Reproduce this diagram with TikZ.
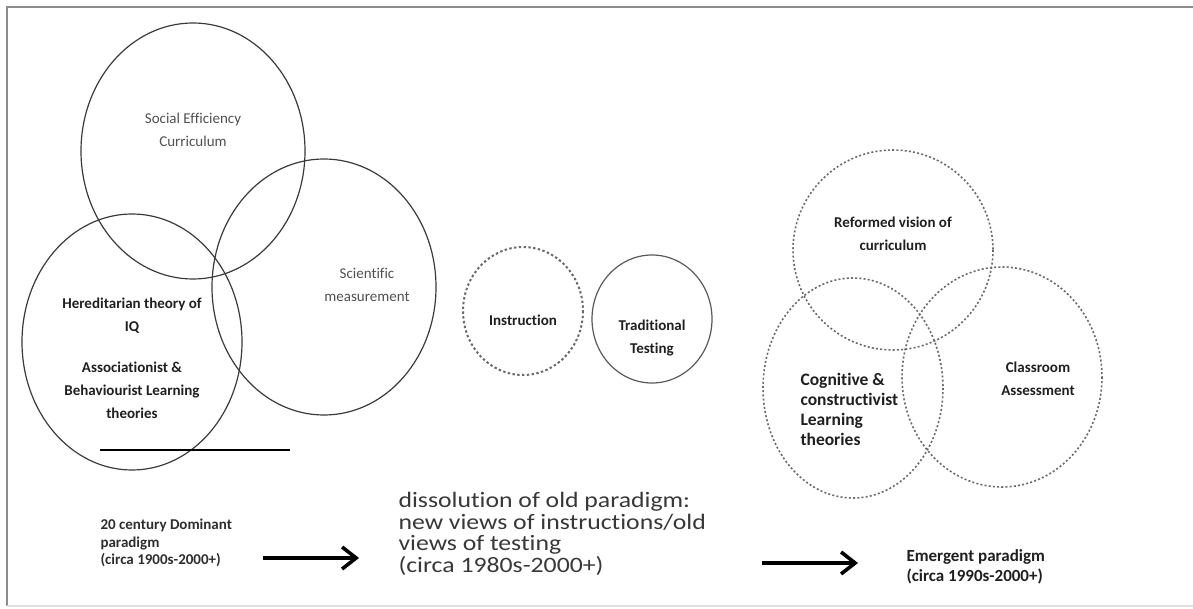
\documentclass[tikz,border=0pt]{standalone}
\usepackage{fontspec}
\setmainfont[Ligatures=NoCommon, RawFeature={-liga;-dlig}]{Carlito}
\newfontfamily\widefont[FakeStretch=1.17, Ligatures=NoCommon, RawFeature={-liga}]{Carlito}
\usetikzlibrary{arrows.meta}
\definecolor{inkgray}{HTML}{3A3A3A}
\definecolor{softgray}{HTML}{505050}
\definecolor{dotgray}{HTML}{6A6A6A}

\tikzset{
	solidcirc/.style={draw=inkgray, line width=1.2pt},
	dotcirc/.style={draw=dotgray, line width=1.6pt, dash pattern=on 2pt off 2.2pt},
	thin label/.style={text=softgray, align=center, font=\fontsize{15}{23}\selectfont},
	bold label/.style={text=black!88, align=center, font=\bfseries\fontsize{15}{23}\selectfont},
	shift arrow/.style={line width=3.6pt, -{Straight Barb[length=14pt, width=22pt]}},
}

\begin{document}
\begin{tikzpicture}[x=1pt, y=-1pt]
			\useasboundingbox (0,0) rectangle (1193,609);

			\draw[black!45, line width=2pt] (1193,7) -- (7,7) -- (7,606);
			\draw[black!12, line width=2pt] (7,606) -- (1193,606);

			\draw[solidcirc] (193,151) ellipse [x radius=112, y radius=128];
			\draw[solidcirc] (132,342) ellipse [x radius=110, y radius=128];
			\draw[solidcirc] (324,287) ellipse [x radius=112, y radius=128];

			\draw[dotcirc, line width=2pt, dash pattern=on 2.4pt off 2.4pt] (523,311) ellipse [x radius=60, y radius=64];
			\draw[solidcirc, draw=black!65] (652,319) ellipse [x radius=60, y radius=64];

			\foreach \cx/\cy/\rx/\ry in {893/250/100/100, 853/388/90/110, 1002/377/100/110}
			\draw[dotcirc] (\cx,\cy) ellipse [x radius=\rx, y radius=\ry];

			\node[thin label] (soc) at (193,130) {Social Efficiency\\Curriculum};
			\node[thin label] (sci) at (367,285) {Scientific\\measurement};
			\node[bold label] (her) at (132,316) {Hereditarian theory of\\IQ};
			\node[bold label] (assoc) at (132,390) {Associationist \&\\Behaviourist Learning\\theories};

			\coordinate (rule1) at (100,450);
			\coordinate (rule2) at (290,450);
			\draw[black, line width=1.3pt] (rule1) -- (rule2);

			\node[bold label] (instr) at (523,320) {Instruction};
			\node[bold label] (trad) at (652,338) {Traditional\\Testing};

			\node[bold label] (reform) at (893,234) {Reformed vision of\\curriculum};
			\node[bold label] (class) at (1038,379) {Classroom\\Assessment};
			\node[bold label, anchor=west, align=left, font=\bfseries\fontsize{17.5}{20}\selectfont] (cogn) at (797,409) {Cognitive \&\\constructivist\\Learning\\theories};

			\node[anchor=west, align=left, text=black!82, font=\bfseries\fontsize{15}{17.5}\selectfont] (old) at (97,543) {20 century Dominant\\paradigm\\(circa 1900s-2000+)};
			\node[anchor=west, align=left, text=black!78, font=\widefont\fontsize{22}{21.7}\selectfont] (diss) at (395,534) {dissolution of old paradigm:\\new views of instructions/old\\views of testing\\(circa 1980s-2000+)};
			\node[anchor=west, align=left, text=black!88, font=\bfseries\fontsize{17}{20}\selectfont] (emerg) at (903,567) {Emergent paradigm\\(circa 1990s-2000+)};

			\coordinate (a1) at (263,558);
			\coordinate (a2) at (359,558);
			\coordinate (b1) at (762,563);
			\coordinate (b2) at (858,563);
			\draw[shift arrow] (a1) -- (a2);
			\draw[shift arrow] (b1) -- (b2);
		\end{tikzpicture}
\end{document}
